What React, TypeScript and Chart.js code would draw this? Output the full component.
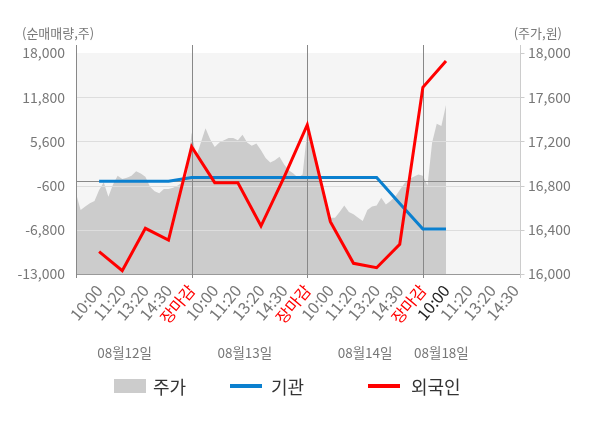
import { useEffect, useRef } from "react";
import { Chart, registerables } from "chart.js";

Chart.register(...registerables);

const FONT = '"Noto Sans CJK KR", "Noto Sans", sans-serif';

// one label per slot; slot 0 is the first day's open
const slotLabels = [
  "10:00", "11:20", "13:20", "14:30", "장마감",
  "10:00", "11:20", "13:20", "14:30", "장마감",
  "10:00", "11:20", "13:20", "14:30", "장마감",
  "10:00", "11:20", "13:20", "14:30",
];
const dayLabels = ["08월12일", "08월13일", "08월14일", "08월18일"];

const leftTicks = [-13000, -6800, -600, 5600, 11800, 18000];
const rightTicks = [16000, 16400, 16800, 17200, 17600, 18000];

// net trading volume (주), slots 1..16
const foreign = [
  -9870, -12540, -6590, -8230, 4860, -190, -190, -6270,
  600, 7900, -5660, -11500, -12120, -8830, 13190, 16880,
];
const institution = [
  0, 0, 0, 0, 550, 550, 550, 550,
  550, 550, 550, 550, 550, -3100, -6690, -6690,
];

// share price (원), every 0.2 slot from slot 0 to slot 16
const price = [
  16730, 16580, 16610, 16640, 16660, 16760, 16830, 16700, 16810, 16890,
  16860, 16870, 16890, 16930, 16910, 16880, 16790, 16750, 16730, 16770,
  16770, 16780, 16800, 16830, 16900, 17280, 17060, 17190, 17320, 17220,
  17150, 17190, 17210, 17230, 17230, 17210, 17260, 17190, 17160, 17180,
  17120, 17050, 17010, 17030, 17060, 16990, 16940, 16910, 16870, 16900,
  17300, 17120, 17050, 16850, 16600, 16510, 16510, 16560, 16620, 16560,
  16540, 16510, 16480, 16580, 16610, 16620, 16690, 16630, 16660, 16700,
  16760, 16820, 16860, 16880, 16900, 16890, 16800, 17190, 17360, 17340,
  17530,
];

const decor = {
  id: "decor",
  beforeDraw(chart: any) {
    const { ctx, chartArea: a } = chart;
    ctx.save();
    ctx.fillStyle = "#f5f5f5";
    ctx.fillRect(a.left, a.top, a.right - a.left, a.bottom - a.top);
    ctx.restore();
  },
  afterDatasetDraw(chart: any, args: any) {
    if (args.index !== 0) return;
    const { ctx, chartArea: a, scales } = chart;
    const line = (x1: number, y1: number, x2: number, y2: number, c: string) => {
      ctx.strokeStyle = c;
      ctx.beginPath();
      ctx.moveTo(x1, y1);
      ctx.lineTo(x2, y2);
      ctx.stroke();
    };
    ctx.save();
    ctx.lineWidth = 1;
    for (const v of leftTicks.slice(1, -1)) {
      const py = Math.round(scales.y.getPixelForValue(v)) + 0.5;
      line(a.left, py, a.right, py, "#dddddd");
    }
    const zy = Math.round(scales.y.getPixelForValue(0)) + 0.5;
    line(a.left, zy, a.right, zy, "#888888");
    const by = Math.round(a.bottom) + 0.5;
    line(a.left, by, a.right, by, "#999999");
    for (const s of [0, 5, 10, 15]) {
      const px = Math.round(scales.x.getPixelForValue(s)) + 0.5;
      line(px, a.top - 8, px, a.bottom + 4, "#888888");
    }
    const rx = Math.round(a.right) + 0.5;
    line(rx, a.top - 8, rx, a.bottom + 4, "#cccccc");
    for (const v of rightTicks) {
      const py = Math.round(scales.y1.getPixelForValue(v)) + 0.5;
      line(rx, py, rx + 4, py, "#cccccc");
    }
    ctx.restore();
  },
  afterDraw(chart: any) {
    const { ctx, scales } = chart;
    ctx.save();
    ctx.textBaseline = "middle";
    ctx.fillStyle = "#777777";
    ctx.font = `13px ${FONT}`;
    ctx.textAlign = "left";
    ctx.fillText("(순매매량,주)", 22, 33);
    ctx.textAlign = "right";
    ctx.fillText("(주가,원)", 562, 33);

    ctx.font = `13.5px ${FONT}`;
    ctx.textAlign = "center";
    [2.1, 7.3, 12.5, 15.8].forEach((s, i) => {
      ctx.fillText(dayLabels[i], scales.x.getPixelForValue(s), 353);
    });

    ctx.font = `18px ${FONT}`;
    ctx.textAlign = "left";
    ctx.fillStyle = "#cccccc";
    ctx.fillRect(114, 379, 32, 14);
    ctx.lineWidth = 4;
    ctx.strokeStyle = "#0b80cf";
    ctx.beginPath();
    ctx.moveTo(230, 386);
    ctx.lineTo(262, 386);
    ctx.stroke();
    ctx.strokeStyle = "#ff0000";
    ctx.beginPath();
    ctx.moveTo(368, 386);
    ctx.lineTo(400, 386);
    ctx.stroke();
    ctx.fillStyle = "#333333";
    ctx.fillText("주가", 153, 387);
    ctx.fillText("기관", 271, 387);
    ctx.fillText("외국인", 411, 387);
    ctx.restore();
  },
};

export default function App() {
  const canvasRef = useRef<HTMLCanvasElement>(null);
  const chartRef = useRef<Chart | null>(null);

  useEffect(() => {
    if (!canvasRef.current) return;
    chartRef.current?.destroy();
    chartRef.current = new Chart(canvasRef.current, {
      type: "line",
      data: {
        datasets: [
          {
            label: "주가",
            data: price.map((v, i) => ({ x: i / 5, y: v })),
            yAxisID: "y1",
            fill: "start",
            backgroundColor: "#cccccc",
            borderWidth: 0,
            pointRadius: 0,
            order: 3,
          },
          {
            label: "기관",
            data: institution.map((v, i) => ({ x: i + 1, y: v })),
            yAxisID: "y",
            borderColor: "#0b80cf",
            borderWidth: 3,
            pointRadius: 0,
            fill: false,
            order: 2,
          },
          {
            label: "외국인",
            data: foreign.map((v, i) => ({ x: i + 1, y: v })),
            yAxisID: "y",
            borderColor: "#ff0000",
            borderWidth: 3,
            pointRadius: 0,
            fill: false,
            order: 1,
          },
        ],
      },
      options: {
        responsive: true,
        maintainAspectRatio: false,
        animation: false,
        layout: { padding: { top: 53, left: 0, right: 0, bottom: 0 } },
        plugins: {
          legend: { display: false },
          tooltip: { enabled: false },
        },
        scales: {
          x: {
            type: "linear",
            min: 0,
            max: 19.2,
            afterBuildTicks: (s: any) => {
              s.ticks = slotLabels.map((_, i) => ({ value: i + 1 }));
            },
            afterFit: (s: any) => {
              s.height = 154;
            },
            grid: { display: false, drawTicks: false },
            border: { display: false },
            ticks: {
              autoSkip: false,
              minRotation: 50,
              maxRotation: 50,
              padding: 7,
              font: { family: FONT, size: 16 },
              color: (c: any) =>
                slotLabels[c.index] === "장마감" ? "#ff0000" : c.index === 15 ? "#222222" : "#777777",
              callback: (_v: any, i: number) => slotLabels[i] ?? "",
            },
          },
          y: {
            position: "left",
            min: -13000,
            max: 18000,
            afterBuildTicks: (s: any) => {
              s.ticks = leftTicks.map((v) => ({ value: v }));
            },
            afterFit: (s: any) => {
              s.width = 76;
            },
            grid: { display: false, drawTicks: false },
            border: { display: false },
            ticks: {
              padding: 11,
              color: "#777777",
              font: { family: FONT, size: 14 },
              callback: (v: any) => Number(v).toLocaleString("en-US"),
            },
          },
          y1: {
            position: "right",
            min: 16000,
            max: 18000,
            afterBuildTicks: (s: any) => {
              s.ticks = rightTicks.map((v) => ({ value: v }));
            },
            afterFit: (s: any) => {
              s.width = 80;
            },
            grid: { display: false, drawTicks: false },
            border: { display: false },
            ticks: {
              padding: 8,
              color: "#777777",
              font: { family: FONT, size: 14 },
              callback: (v: any) => Number(v).toLocaleString("en-US"),
            },
          },
        },
      },
      plugins: [decor],
    });
    return () => {
      chartRef.current?.destroy();
      chartRef.current = null;
    };
  }, []);

  return (
    <div style={{ position: "absolute", left: 0, top: 0, width: 600, height: 428 }}>
      <canvas ref={canvasRef} />
    </div>
  );
}
